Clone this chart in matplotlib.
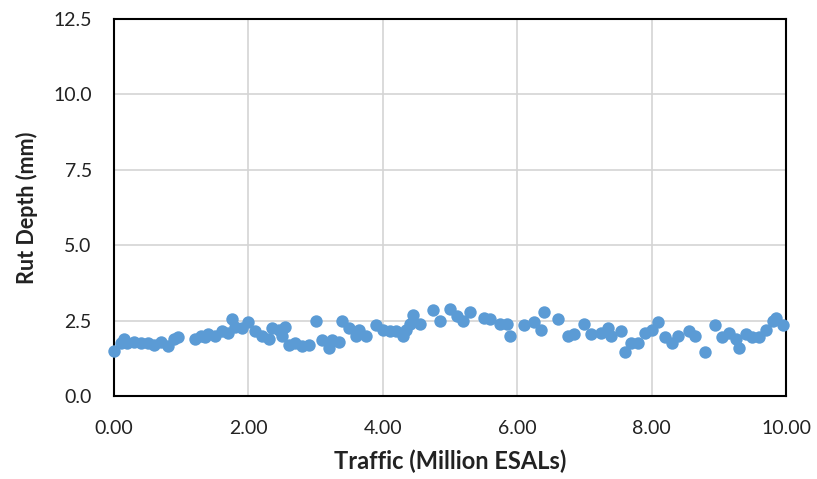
import matplotlib
matplotlib.use("Agg")
import matplotlib.pyplot as plt
from matplotlib.ticker import FormatStrFormatter

plt.rcParams['font.family'] = ['Lato', 'DejaVu Sans']

traffic = [0.00, 0.10, 0.15, 0.20, 0.30, 0.40, 0.50, 0.60, 0.70, 0.80, 0.90, 0.95,
           1.20, 1.30, 1.35, 1.40, 1.50, 1.60, 1.70, 1.75, 1.80, 1.90, 2.00,
           2.10, 2.20, 2.30, 2.35, 2.45, 2.50, 2.55, 2.60, 2.70, 2.80, 2.90,
           3.00, 3.10, 3.20, 3.25, 3.35, 3.40, 3.50, 3.60, 3.65, 3.75, 3.90,
           4.00, 4.10, 4.20, 4.30, 4.35, 4.40, 4.45, 4.55, 4.75, 4.85, 5.00,
           5.10, 5.20, 5.30, 5.50, 5.60, 5.75, 5.85, 5.90, 6.10, 6.25, 6.35,
           6.40, 6.60, 6.75, 6.85, 7.00, 7.10, 7.25, 7.35, 7.40, 7.55, 7.60,
           7.70, 7.80, 7.90, 8.00, 8.10, 8.20, 8.30, 8.40, 8.55, 8.65, 8.80,
           8.95, 9.05, 9.15, 9.25, 9.30, 9.40, 9.50, 9.60, 9.70, 9.80, 9.85, 9.95]
rut_depth = [1.50, 1.75, 1.90, 1.75, 1.80, 1.75, 1.75, 1.70, 1.80, 1.65, 1.90, 1.95,
             1.90, 2.00, 1.95, 2.05, 2.00, 2.15, 2.10, 2.55, 2.30, 2.25, 2.45,
             2.15, 2.00, 1.90, 2.25, 2.20, 2.00, 2.30, 1.70, 1.75, 1.65, 1.70,
             2.50, 1.85, 1.60, 1.85, 1.80, 2.50, 2.25, 2.00, 2.20, 2.00, 2.35,
             2.20, 2.15, 2.15, 2.00, 2.20, 2.40, 2.70, 2.40, 2.85, 2.50, 2.90,
             2.65, 2.50, 2.80, 2.60, 2.55, 2.40, 2.40, 2.00, 2.35, 2.45, 2.20,
             2.80, 2.55, 2.00, 2.05, 2.40, 2.05, 2.10, 2.25, 2.00, 2.15, 1.45,
             1.75, 1.75, 2.10, 2.20, 2.45, 1.95, 1.75, 2.00, 2.15, 2.00, 1.45,
             2.35, 1.95, 2.10, 1.90, 1.60, 2.05, 1.95, 1.95, 2.20, 2.50, 2.60, 2.35]

x_ticks = [0, 2, 4, 6, 8, 10]
y_ticks = [0, 2.5, 5, 7.5, 10, 12.5]

fig = plt.figure(figsize=(8.17, 4.79), dpi=100)
ax = fig.add_axes([114/817, 1-396/479, (786-114)/817, (396-19)/479])
ax.scatter(traffic, rut_depth, s=80, color='#5B9BD5', zorder=3, clip_on=False, linewidths=0)
ax.set_xlim(0, 10)
ax.set_ylim(0, 12.5)
ax.set_xticks(x_ticks)
ax.set_yticks(y_ticks)
ax.xaxis.set_major_formatter(FormatStrFormatter('%.2f'))
ax.yaxis.set_major_formatter(FormatStrFormatter('%.1f'))
ax.grid(True, color='#D4D4D4', linewidth=1.2)
ax.set_axisbelow(True)
ax.tick_params(length=0, labelsize=14, colors='#222222')
ax.tick_params(axis='y', pad=16)
ax.tick_params(axis='x', pad=17)
for s in ax.spines.values():
    s.set_color('black')
    s.set_linewidth(1.5)
ax.set_xlabel('Traffic (Million ESALs)', fontsize=17, fontweight='bold', color='#222222', labelpad=9)
ax.set_ylabel('Rut Depth (mm)', fontsize=15.5, fontweight='bold', color='#222222', labelpad=11)
fig.savefig('out.png', dpi=100)
